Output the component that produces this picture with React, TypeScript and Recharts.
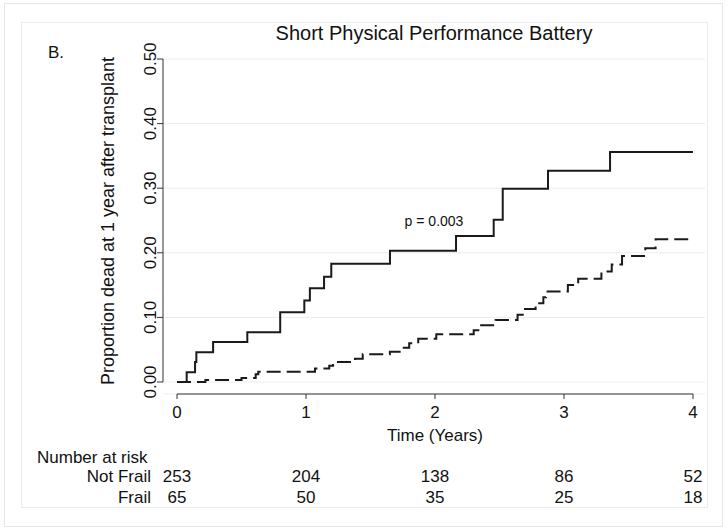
import React from "react";
import { LineChart, Line, XAxis, YAxis, CartesianGrid } from "recharts";

// Frail (solid) cumulative proportion dead
const frailTimes = [0, 0.075, 0.14, 0.15, 0.28, 0.545, 0.8, 0.987, 1.03, 1.14, 1.196, 1.651, 2.163, 2.455, 2.525, 2.876, 3.357, 4.0];
const frailValues = [0, 0.015, 0.031, 0.046, 0.062, 0.077, 0.108, 0.126, 0.145, 0.163, 0.183, 0.203, 0.226, 0.251, 0.299, 0.327, 0.356, 0.356];

// Not Frail (dashed)
const notFrailTimes = [0, 0.22, 0.5, 0.61, 0.63, 1.07, 1.18, 1.21, 1.38, 1.44, 1.65, 1.74, 1.8, 1.87, 2.01, 2.3, 2.35, 2.47, 2.64, 2.68, 2.78, 2.84, 2.86, 3.03, 3.11, 3.29, 3.37, 3.45, 3.63, 3.71, 4.0];
const notFrailValues = [0, 0.003, 0.006, 0.012, 0.016, 0.021, 0.025, 0.031, 0.036, 0.043, 0.047, 0.053, 0.06, 0.067, 0.074, 0.08, 0.088, 0.096, 0.104, 0.113, 0.122, 0.131, 0.14, 0.15, 0.16, 0.171, 0.182, 0.195, 0.207, 0.221, 0.221];

const xTicks = [0, 1, 2, 3, 4];
const yTicks = [0, 0.1, 0.2, 0.3, 0.4, 0.5];
const notFrailAtRisk = [253, 204, 138, 86, 52];
const frailAtRisk = [65, 50, 35, 25, 18];

const frailData = frailTimes.map((t, i) => ({ t, p: frailValues[i] }));
const notFrailData = notFrailTimes.map((t, i) => ({ t, p: notFrailValues[i] }));

const FONT = "'Liberation Sans', Arial, Helvetica, sans-serif";

const XTick = (props: any) => {
  const { x, y, payload } = props;
  const i = xTicks.indexOf(payload.value);
  return (
    <g fontFamily={FONT} fontSize={17} fill="#111">
      <text x={x} y={y + 19} textAnchor="middle">{payload.value}</text>
      <text x={x} y={y + 83} textAnchor="middle">{notFrailAtRisk[i]}</text>
      <text x={x} y={y + 104} textAnchor="middle">{frailAtRisk[i]}</text>
    </g>
  );
};

const YTick = (props: any) => {
  const { x, y, payload } = props;
  const tx = x + 1;
  return (
    <text
      x={tx}
      y={y}
      transform={`rotate(-90, ${tx}, ${y})`}
      textAnchor="middle"
      fontFamily={FONT}
      fontSize={17}
      fill="#111"
    >
      {Number(payload.value).toFixed(2)}
    </text>
  );
};

export default function App() {
  return (
    <div style={{ position: "absolute", left: 0, top: 0, width: 728, height: 531, background: "#fff" }}>
      <svg width={728} height={531} style={{ position: "absolute", left: 0, top: 0 }}>
        <rect x={4.5} y={3.5} width={718} height={523} fill="none" stroke="#e6e6e6" />
        <rect x={21.5} y={22.5} width={686} height={485} fill="none" stroke="#ececec" />
      </svg>
      <div style={{ position: "absolute", left: 0, top: 0 }}>
        <LineChart width={728} height={531} margin={{ top: 59, right: 23, bottom: 0, left: 0 }}>
          <CartesianGrid horizontal vertical={false} stroke="#e8ecef" strokeWidth={1} />
          <XAxis
            dataKey="t"
            type="number"
            domain={[0, 4]}
            ticks={xTicks}
            padding={{ left: 14, right: 12 }}
            height={137}
            tickSize={5}
            tickMargin={0}
            axisLine={{ stroke: "#333", strokeDasharray: "0 14 516 100" }}
            tickLine={{ stroke: "#333" }}
            tick={<XTick />}
            interval={0}
            allowDuplicatedCategory={false}
          />
          <YAxis
            type="number"
            domain={[0, 0.5]}
            ticks={yTicks}
            padding={{ top: 0, bottom: 12 }}
            width={163}
            tickSize={6}
            tickMargin={2}
            axisLine={{ stroke: "#333", strokeDasharray: "323 100" }}
            tickLine={{ stroke: "#333" }}
            tick={<YTick />}
            interval={0}
          />
          <Line
            data={frailData}
            dataKey="p"
            type="stepAfter"
            stroke="#1a1a1a"
            strokeWidth={2}
            dot={false}
            isAnimationActive={false}
          />
          <Line
            data={notFrailData}
            dataKey="p"
            type="stepAfter"
            stroke="#1a1a1a"
            strokeWidth={2}
            strokeDasharray="14 6"
            dot={false}
            isAnimationActive={false}
          />
        </LineChart>
      </div>
      <svg width={728} height={531} style={{ position: "absolute", left: 0, top: 0, pointerEvents: "none" }} fontFamily={FONT} fill="#111">
        <text x={434} y={40} textAnchor="middle" fontSize={20}>Short Physical Performance Battery</text>
        <text x={48} y={58} fontSize={17}>B.</text>
        <text x={114} y={221} textAnchor="middle" fontSize={18} transform="rotate(-90, 114, 221)">Proportion dead at 1 year after transplant</text>
        <text x={434} y={226} textAnchor="middle" fontSize={14}>p = 0.003</text>
        <text x={435} y={441} textAnchor="middle" fontSize={17}>Time (Years)</text>
        <text x={37} y={463} fontSize={17}>Number at risk</text>
        <text x={151} y={482} textAnchor="end" fontSize={17}>Not Frail</text>
        <text x={151} y={503} textAnchor="end" fontSize={17}>Frail</text>
      </svg>
    </div>
  );
}
